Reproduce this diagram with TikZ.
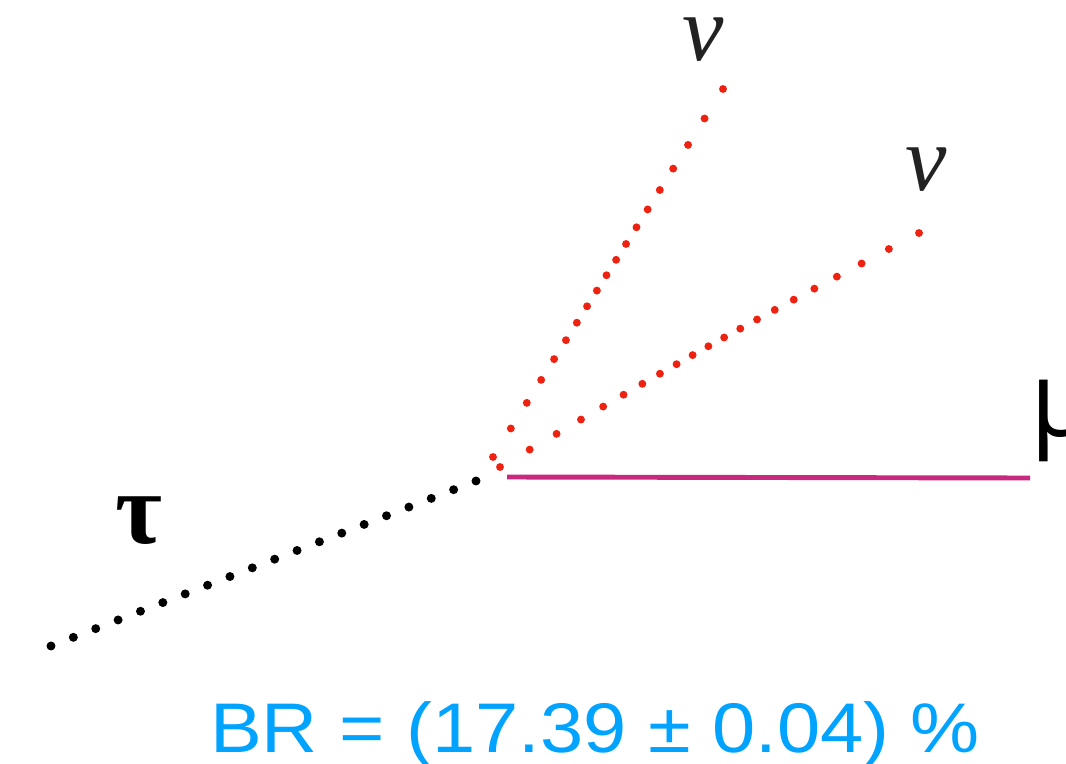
\documentclass[tikz,border=0pt]{standalone}
\usepackage{fontspec}
\setmainfont{Liberation Serif}
\newfontfamily\brfont{Liberation Sans}
\newfontfamily\mufont{Open Sans}
\definecolor{nured}{RGB}{238,34,17}
\definecolor{mumag}{RGB}{200,40,125}
\definecolor{brblue}{RGB}{0,163,255}
\definecolor{nugray}{RGB}{34,34,34}
\begin{document}
\begin{tikzpicture}[x=0.02cm,y=-0.02cm,
  taudot/.style={fill=black},
  nudot/.style={fill=nured},
  muline/.style={line width=2.8pt, mumag},
  lbl/.style={inner sep=0pt, outer sep=0pt}]
\useasboundingbox (0,0) rectangle (1066,764);
\coordinate (taustart) at (51,646);
\coordinate (vtx) at (476,481);
\coordinate (n1start) at (493,457);
\coordinate (n1end) at (723,89);
\coordinate (n2start) at (500,467);
\coordinate (n2end) at (919,233);
\coordinate (mustart) at (507,477);
\coordinate (muend) at (1030,478);
% tau track
\foreach \i in {0,...,19} {
  \path (taustart) -- (vtx) coordinate[pos=\i/19] (tp);
  \path[taudot] (tp) circle (2.55pt);
}
% neutrino tracks
\foreach \i in {0,...,18} {
  \path (n1start) .. controls (606,276) .. (n1end) coordinate[pos=\i/18] (ap);
  \path[nudot] (ap) circle (2.25pt);
}
\foreach \i in {0,...,20} {
  \path (n2start) .. controls (708,345) .. (n2end) coordinate[pos=\i/20] (bp);
  \path[nudot] (bp) circle (2.25pt);
}
% muon track
\draw[muline] (mustart) -- (muend);
% labels
\node[lbl, text=nugray, font=\itshape\fontsize{53}{60}\selectfont] (nu1) at (703,40) {ν};
\node[lbl, text=nugray, font=\itshape\fontsize{53}{60}\selectfont] (nu2) at (926,170) {ν};
\node[lbl, font=\bfseries\fontsize{58}{64}\selectfont] (tau) at (139,521) {τ};
\node[lbl, anchor=north west, font=\mufont\fontsize{60}{66}\selectfont] (mu) at (1030,380) {μ};
\node[lbl, anchor=base west, text=brblue, xscale=1.105, transform shape, font=\brfont\fontsize{40}{48}\selectfont] (br) at (210,752) {BR = (17.39 ± 0.04) \%};
\end{tikzpicture}
\end{document}
